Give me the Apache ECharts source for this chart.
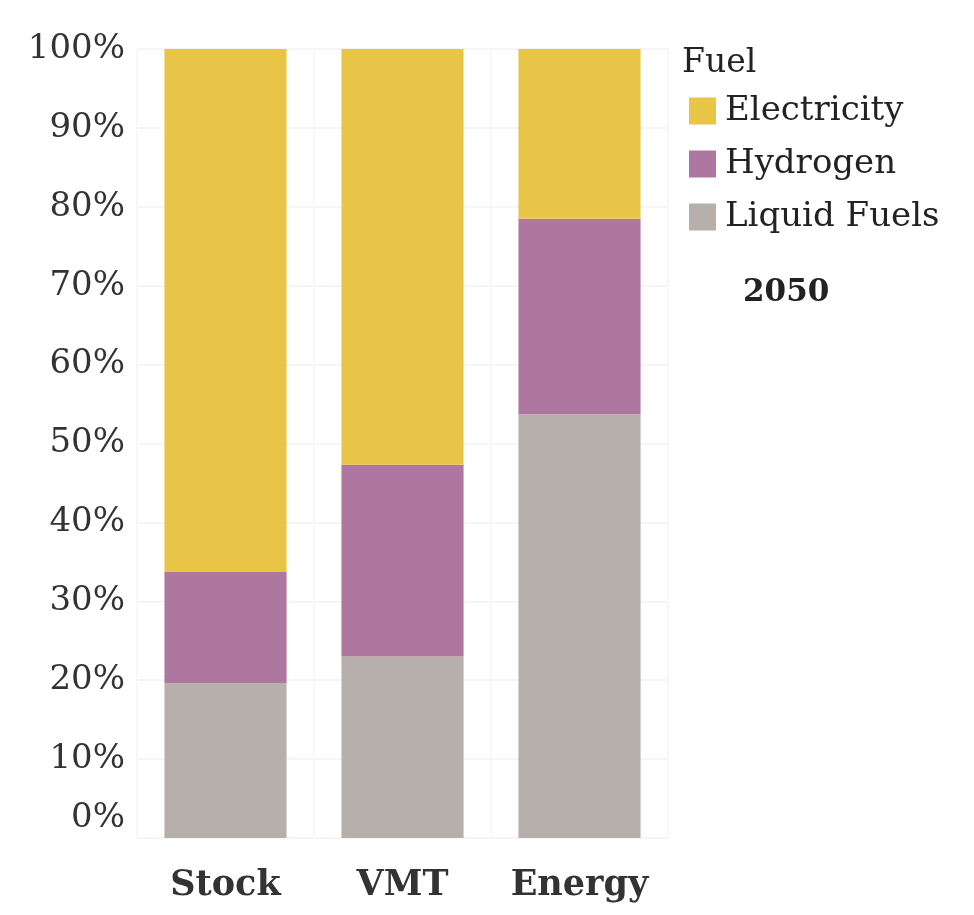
<!DOCTYPE html>
<html>
<head>
<meta charset="utf-8">
<script src="https://cdn.jsdelivr.net/npm/echarts@6/dist/echarts.min.js"></script>
<style>
  html, body { margin: 0; padding: 0; background: #fff; }
  #chart { width: 974px; height: 915px; }
</style>
</head>
<body>
<div id="chart"></div>
<script>
  // share of each fuel in 2050 (percent)
  var categories = ['Stock', 'VMT', 'Energy'];
  var fuels = ['Electricity', 'Hydrogen', 'Liquid Fuels'];
  var liquidFuels = [19.6, 23.0, 53.7];
  var hydrogen = [14.1, 24.3, 24.8];
  var electricity = [66.3, 52.7, 21.5];

  var serif = 'DejaVu Serif';
  var myChart = echarts.init(document.getElementById('chart'));

  function barSeries(name, data, color) {
    return {
      name: name,
      type: 'bar',
      stack: 'fuel',
      barCategoryGap: '31%',
      itemStyle: { color: color },
      data: data
    };
  }

  var option = {
    backgroundColor: '#fff',
    animation: false,
    title: [
      {
        text: 'Fuel', left: 677, top: 42,
        textStyle: { fontFamily: serif, fontWeight: 'normal', fontSize: 33, color: '#222' }
      },
      {
        text: '2050', left: 738, top: 272,
        textStyle: { fontFamily: serif, fontWeight: 'bold', fontSize: 31, color: '#222' }
      }
    ],
    legend: {
      orient: 'vertical',
      left: 684,
      top: 89,
      itemWidth: 27,
      itemHeight: 27,
      itemGap: 19,
      icon: 'rect',
      data: fuels,
      textStyle: { fontFamily: serif, fontSize: 34, color: '#222', padding: [0, 0, 0, 4] }
    },
    grid: { left: 137, right: 306, top: 49, bottom: 77 },
    xAxis: {
      type: 'category',
      data: categories,
      axisLine: { show: false },
      axisTick: { show: false },
      splitLine: { show: true, lineStyle: { color: '#f7f7f7', width: 2 } },
      axisLabel: {
        interval: 0,
        margin: 30,
        fontFamily: serif,
        fontWeight: 'bold',
        fontSize: 35,
        color: '#333'
      }
    },
    yAxis: {
      type: 'value',
      min: 0,
      max: 100,
      interval: 10,
      axisLine: { show: false },
      axisTick: { show: false },
      splitLine: { lineStyle: { color: '#f5f5f5', width: 2 } },
      axisLabel: {
        margin: 12,
        fontFamily: serif,
        fontSize: 34,
        color: '#333',
        formatter: function (v) {
          return v === 0 ? '{z|0%}' : v + '%';
        },
        rich: {
          z: { fontFamily: serif, fontSize: 34, color: '#333', padding: [0, 0, 40, 0] }
        }
      }
    },
    series: [
      barSeries('Liquid Fuels', liquidFuels, '#B7AFAC'),
      barSeries('Hydrogen', hydrogen, '#AE779F'),
      barSeries('Electricity', electricity, '#E8C547')
    ]
  };
  myChart.setOption(option);
</script>
</body>
</html>
